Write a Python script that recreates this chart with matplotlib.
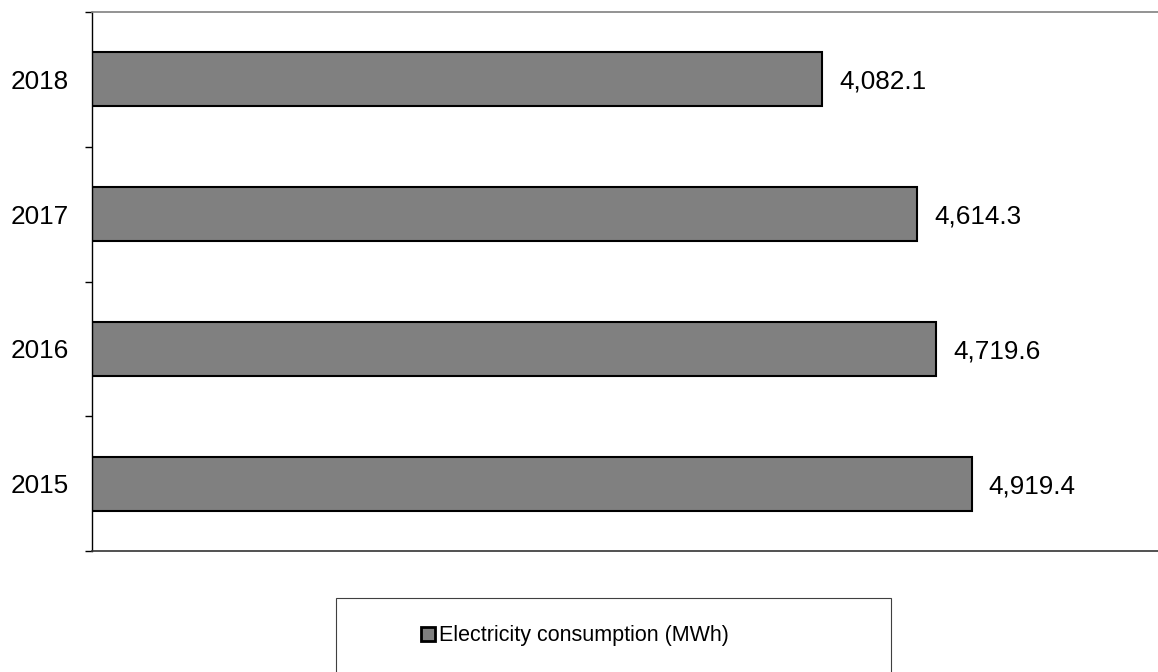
import matplotlib
matplotlib.use("Agg")
import matplotlib.pyplot as plt
from matplotlib.patches import Rectangle

plt.rcParams['font.family'] = ['Liberation Sans', 'DejaVu Sans']

years = ["2015", "2016", "2017", "2018"]
consumption = [4919.4, 4719.6, 4614.3, 4082.1]
series_name = "Electricity consumption (MWh)"

W, H = 1158, 672
fig = plt.figure(figsize=(W / 100, H / 100), dpi=100)
ax = fig.add_axes([92 / W, 1 - 551 / H, 1 - 92 / W, (551 - 12) / H])

pos = list(range(len(years)))
bars = ax.barh(pos, consumption, height=0.4, color="#808080",
               edgecolor="black", linewidth=1.5, label=series_name)

for p, v in zip(pos, consumption):
    ax.text(v + 95, p, f"{v:,.1f}", va="center_baseline", ha="left", fontsize=18.8)

ax.set_xlim(0, 5960)
ax.set_ylim(-0.5, len(years) - 0.5)

ax.set_yticks(pos)
ax.set_yticklabels(years, fontsize=18.8)
ax.tick_params(axis="y", which="major", length=0, pad=17)
ax.set_yticks([p - 0.5 for p in pos] + [len(years) - 0.5], minor=True)
ax.tick_params(axis="y", which="minor", length=5, width=1.0, color="black")
ax.set_xticks([])

ax.spines["right"].set_visible(False)
ax.spines["left"].set_linewidth(1.0)
ax.spines["top"].set_color("#808080")
ax.spines["top"].set_linewidth(1.2)
ax.spines["bottom"].set_color("#333333")
ax.spines["bottom"].set_linewidth(1.2)

# legend box
fig.patches.append(Rectangle((336 / W, 1 - 690 / H), (891 - 336) / W, (690 - 598) / H,
                             transform=fig.transFigure, facecolor="white",
                             edgecolor="#404040", linewidth=0.8))
leg = fig.legend(handles=[bars], labels=[series_name], loc="center",
                 bbox_to_anchor=(575 / W, 1 - 636 / H), frameon=False,
                 fontsize=15.5, handlelength=0.65, handleheight=0.65, handletextpad=0.15)
for h in leg.legend_handles:
    h.set_linewidth(2.0)

fig.savefig("out.png", dpi=100)
